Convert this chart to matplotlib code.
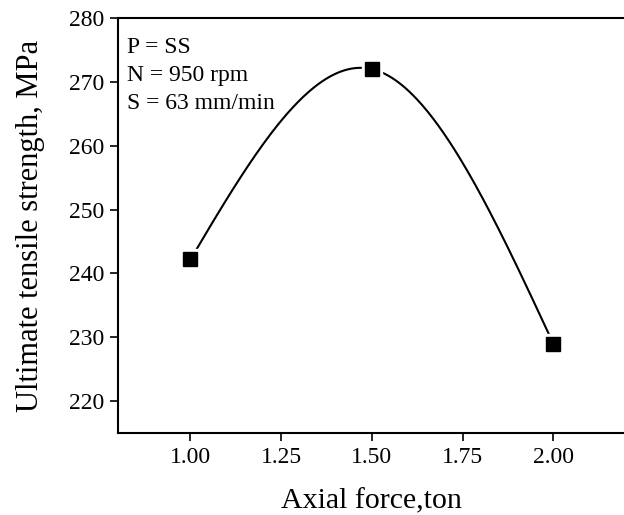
import numpy as np
import matplotlib
matplotlib.use('Agg')
import matplotlib.pyplot as plt

force = [1.00, 1.50, 2.00]
uts = [242.2, 272.0, 229.0]
xticks = [1.00, 1.25, 1.50, 1.75, 2.00]
yticks = [220, 230, 240, 250, 260, 270, 280]

plt.rcParams['font.family'] = ['Liberation Serif', 'DejaVu Serif']

# natural cubic spline through the measured points (Origin-style smooth line)
def natural_spline(x, y, n=200):
    x = np.asarray(x, float)
    y = np.asarray(y, float)
    k = len(x)
    h = np.diff(x)
    A = np.zeros((k, k))
    b = np.zeros(k)
    A[0, 0] = A[-1, -1] = 1
    for i in range(1, k - 1):
        A[i, i - 1] = h[i - 1]
        A[i, i] = 2 * (h[i - 1] + h[i])
        A[i, i + 1] = h[i]
        b[i] = 6 * ((y[i + 1] - y[i]) / h[i] - (y[i] - y[i - 1]) / h[i - 1])
    M = np.linalg.solve(A, b)
    xs = np.linspace(x[0], x[-1], n)
    ys = np.empty_like(xs)
    for j, xv in enumerate(xs):
        i = min(np.searchsorted(x, xv, side='right') - 1, k - 2)
        t1 = x[i + 1] - xv
        t0 = xv - x[i]
        ys[j] = (M[i] * t1**3 + M[i + 1] * t0**3) / (6 * h[i]) \
            + (y[i] / h[i] - M[i] * h[i] / 6) * t1 \
            + (y[i + 1] / h[i] - M[i + 1] * h[i] / 6) * t0
    return xs, ys

fig = plt.figure(figsize=(6.24, 5.15), dpi=100)
ax = fig.add_axes([0.189, 0.159, 0.814, 0.806])

sx, sy = natural_spline(force, uts)
ax.plot(sx, sy, color='black', lw=1.5, zorder=2)
# white halo around markers so the line stops short of them
ax.plot(force, uts, 's', ms=14, color='white', mec='white', zorder=3)
ax.plot(force, uts, 's', ms=9.5, color='black', zorder=4)

ax.set_xlim(0.8, 2.2)
ax.set_ylim(215, 280)
ax.set_xticks(xticks)
ax.set_xticklabels(['%.2f' % v for v in xticks])
ax.set_yticks(yticks)
ax.tick_params(direction='out', length=6, width=1.2, labelsize=17, pad=4)
for s in ax.spines.values():
    s.set_linewidth(1.5)

ax.set_xlabel('Axial force,ton', fontsize=21.5, labelpad=15)
ax.set_ylabel('Ultimate tensile strength, MPa', fontsize=22, labelpad=17)

ax.text(0.018, 0.955, 'P = SS\nN = 950 rpm\nS = 63 mm/min',
        transform=ax.transAxes, ha='left', va='top', fontsize=17,
        linespacing=1.45)

fig.savefig('out.png', dpi=100)
